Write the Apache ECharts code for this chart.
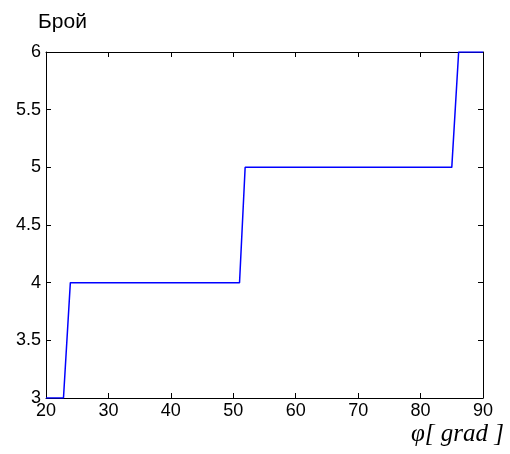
<!DOCTYPE html>
<html>
<head>
<meta charset="utf-8">
<script src="https://cdn.jsdelivr.net/npm/echarts@6/dist/echarts.min.js"></script>
<style>
  html, body { margin: 0; padding: 0; background: #fff; }
  #chart { width: 510px; height: 454px; }
</style>
</head>
<body>
<div id="chart"></div>
<script>
// step curve: angle (grad) -> count
const angles = [20, 22.8, 23.9, 51, 51.9, 85, 86.1, 90];
const counts = [3, 3, 4, 4, 5, 5, 6, 6];
const xTicks = { min: 20, max: 90, step: 10 };
const yTicks = { min: 3, max: 6, step: 0.5 };

const chart = echarts.init(document.getElementById('chart'));

const axisBase = {
    type: 'value',
    axisLine: { show: true, lineStyle: { color: '#000', width: 1 } },
    axisTick: { show: true, inside: true, length: 5, lineStyle: { color: '#000' } },
    splitLine: { show: false }
};
const labelFont = { color: '#000', fontSize: 18, fontFamily: 'Liberation Sans, Arial, sans-serif' };

chart.setOption({
    animation: false,
    backgroundColor: '#fff',
    title: {
        text: 'Брой',
        left: 33, top: 7,
        textStyle: { fontSize: 21, fontWeight: 'normal', color: '#000', fontFamily: 'Liberation Sans, Arial, sans-serif' }
    },
    grid: { left: 46, right: 27, top: 52, bottom: 56 },
    xAxis: [
        Object.assign({}, axisBase, {
            position: 'bottom', min: xTicks.min, max: xTicks.max, interval: xTicks.step,
            axisLabel: Object.assign({ margin: 4 }, labelFont)
        }),
        Object.assign({}, axisBase, {
            position: 'top', min: xTicks.min, max: xTicks.max, interval: xTicks.step,
            axisLabel: { show: false }
        })
    ],
    yAxis: [
        Object.assign({}, axisBase, {
            position: 'left', min: yTicks.min, max: yTicks.max, interval: yTicks.step,
            axisLabel: Object.assign({ margin: 5 }, labelFont)
        }),
        Object.assign({}, axisBase, {
            position: 'right', min: yTicks.min, max: yTicks.max, interval: yTicks.step,
            axisLabel: { show: false }
        })
    ],
    graphic: [{
        type: 'text',
        right: 6, top: 422,
        style: {
            text: 'φ[ grad ]',
            font: 'italic 25px "Liberation Serif", "Times New Roman", serif',
            fill: '#000'
        }
    }],
    series: [{
        type: 'line',
        data: angles.map((a, i) => [a, counts[i]]),
        showSymbol: false,
        lineStyle: { color: '#0000ff', width: 1.5 },
        clip: true
    }]
});
</script>
</body>
</html>
